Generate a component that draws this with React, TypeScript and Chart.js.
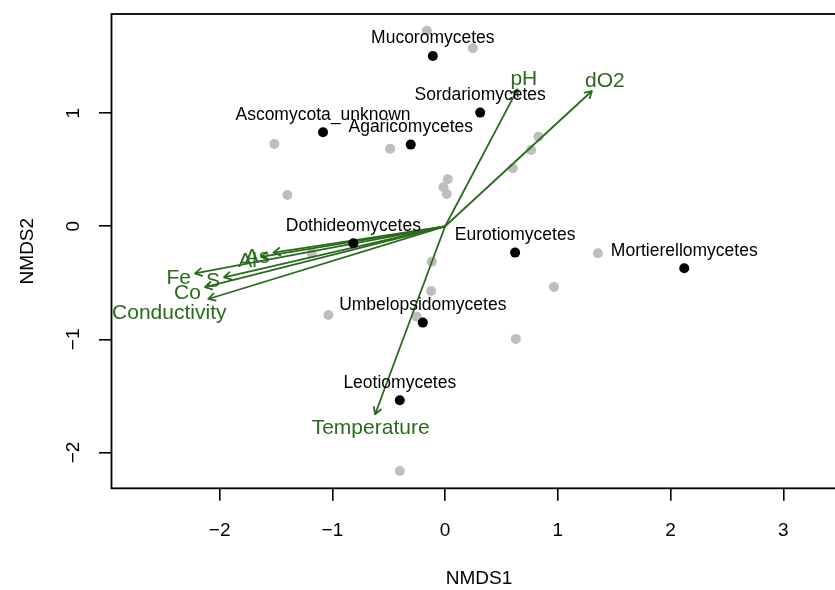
import React, { useEffect, useRef } from "react";
import { Chart, registerables } from "chart.js";

Chart.register(...registerables);

// ---- data ----
const siteX = [-0.162, 0.246, -1.515, -0.488, -1.399, 0.024, -0.015, 0.015, 0.828, 0.763, 0.601, -0.118, -0.124, -1.035, -0.251, -0.402, 1.355, 0.965, 0.627, -1.183];
const siteY = [1.729, 1.574, 0.728, 0.686, 0.277, 0.416, 0.345, 0.286, 0.792, 0.675, 0.513, -0.313, -0.572, -0.784, -0.799, -2.164, -0.239, -0.537, -0.996, -0.239];

const speciesNames = ["Mucoromycetes", "Sordariomycetes", "Ascomycota_unknown", "Agaricomycetes", "Dothideomycetes", "Eurotiomycetes", "Mortierellomycetes", "Umbelopsidomycetes", "Leotiomycetes"];
const speciesX = [-0.109, 0.311, -1.083, -0.305, -0.814, 0.621, 2.121, -0.198, -0.402];
const speciesY = [1.506, 1.005, 0.831, 0.722, -0.150, -0.233, -0.371, -0.852, -1.538];

const vectorNames = ["pH", "dO2", "Temperature", "Conductivity", "Co", "Fe", "S", "Al", "As"];
const vectorX = [0.642, 1.302, -0.621, -2.100, -2.130, -2.218, -1.961, -1.633, -1.523];
const vectorY = [1.211, 1.196, -1.662, -0.643, -0.539, -0.416, -0.451, -0.271, -0.233];

const xTicks = [-2, -1, 0, 1, 2, 3];
const yTicks = [-2, -1, 0, 1];
const xLimits = [-2.959, 3.56];
const yLimits = [-2.317, 1.877];
const xTitle = "NMDS1";
const yTitle = "NMDS2";

// ---- styles ----
const GREEN = "#2b6a1e";
const GREY = "#bebebe";
const FONT = '"Liberation Sans", Arial, Helvetica, sans-serif';
const AXIS_FS = 19;
const SPECIES_FS = 17.5;
const VECTOR_FS = 21;
const CAP = 0.716;
const CANVAS_W = 855;
const CANVAS_H = 590;

const fmt = (v: number) => (v < 0 ? "\u2212" + Math.abs(v) : String(v));

const overlay = {
  id: "overlay",
  afterDatasetsDraw(chart: any) {
    const ctx = chart.ctx as CanvasRenderingContext2D;
    const xs = chart.scales.x;
    const ys = chart.scales.y;
    const ox = xs.getPixelForValue(0);
    const oy = ys.getPixelForValue(0);
    ctx.save();
    // arrow heads
    ctx.strokeStyle = GREEN;
    ctx.lineWidth = 1.8;
    ctx.lineCap = "round";
    ctx.lineJoin = "round";
    const L = 7.5;
    const A = Math.PI / 6;
    vectorX.forEach((vx, i) => {
      const tx = xs.getPixelForValue(vx);
      const ty = ys.getPixelForValue(vectorY[i]);
      const ang = Math.atan2(ty - oy, tx - ox);
      ctx.beginPath();
      ctx.moveTo(tx - L * Math.cos(ang - A), ty - L * Math.sin(ang - A));
      ctx.lineTo(tx, ty);
      ctx.lineTo(tx - L * Math.cos(ang + A), ty - L * Math.sin(ang + A));
      ctx.stroke();
    });
    // vector labels (placed like vegan's ordiArrowTextXY)
    ctx.font = `${VECTOR_FS}px ${FONT}`;
    ctx.fillStyle = GREEN;
    ctx.textAlign = "center";
    ctx.textBaseline = "alphabetic";
    const h = 16;
    vectorNames.forEach((name, i) => {
      const tx = xs.getPixelForValue(vectorX[i]);
      const ty = ys.getPixelForValue(vectorY[i]);
      const dx = tx - ox;
      const dy = ty - oy;
      const w = ctx.measureText(name).width;
      let offX = Math.sign(dx) * (w / 2 + h / 4);
      let offY = 0.75 * h * Math.sign(dy);
      const b = dy / dx;
      const move = offY / b;
      if (isFinite(move) && Math.abs(move) <= Math.abs(offX)) offX = move;
      else offY = b * offX;
      ctx.fillText(name, tx + offX, ty + offY + (CAP * VECTOR_FS) / 2);
    });
    // species labels
    ctx.font = `${SPECIES_FS}px ${FONT}`;
    ctx.fillStyle = "#000";
    speciesNames.forEach((n, i) => {
      ctx.fillText(n, xs.getPixelForValue(speciesX[i]), ys.getPixelForValue(speciesY[i]) - 12.5);
    });
    ctx.restore();
  },
  afterDraw(chart: any) {
    const ctx = chart.ctx as CanvasRenderingContext2D;
    const xs = chart.scales.x;
    const ys = chart.scales.y;
    const ca = chart.chartArea;
    ctx.save();
    ctx.strokeStyle = "#000";
    ctx.lineWidth = 1.8;
    ctx.strokeRect(ca.left, ca.top, ca.right - ca.left, ca.bottom - ca.top);
    ctx.fillStyle = "#000";
    ctx.font = `${AXIS_FS}px ${FONT}`;
    ctx.textAlign = "center";
    ctx.textBaseline = "alphabetic";
    const half = (CAP * AXIS_FS) / 2;
    xs.ticks.forEach((t: any) => {
      ctx.fillText(fmt(t.value), xs.getPixelForValue(t.value), 529.5 + half);
    });
    ys.ticks.forEach((t: any) => {
      ctx.save();
      ctx.translate(71.7, ys.getPixelForValue(t.value));
      ctx.rotate(-Math.PI / 2);
      ctx.fillText(fmt(t.value), 0, half);
      ctx.restore();
    });
    ctx.fillText(xTitle, (ca.left + ca.right) / 2, 577.5 + half);
    ctx.save();
    ctx.translate(26, (ca.top + ca.bottom) / 2);
    ctx.rotate(-Math.PI / 2);
    ctx.fillText(yTitle, 0, half);
    ctx.restore();
    ctx.restore();
  },
};

export default function App() {
  const ref = useRef<HTMLCanvasElement | null>(null);
  useEffect(() => {
    if (!ref.current) return;
    const vectorSets = vectorNames.map((n, i) => ({
      label: n,
      type: "scatter" as const,
      data: [
        { x: 0, y: 0 },
        { x: vectorX[i], y: vectorY[i] },
      ],
      showLine: true,
      borderColor: GREEN,
      borderWidth: 1.8,
      pointRadius: 0,
      fill: false,
      order: 1,
    }));
    const chart = new Chart(ref.current, {
      type: "scatter",
      data: {
        datasets: [
          {
            label: "species",
            data: speciesX.map((x, i) => ({ x, y: speciesY[i] })),
            pointRadius: 5,
            pointBackgroundColor: "#000",
            pointBorderWidth: 0,
            borderWidth: 0,
            order: 0,
          },
          ...vectorSets,
          {
            label: "sites",
            data: siteX.map((x, i) => ({ x, y: siteY[i] })),
            pointRadius: 5,
            pointBackgroundColor: GREY,
            pointBorderWidth: 0,
            borderWidth: 0,
            order: 2,
          },
        ] as any,
      },
      options: {
        responsive: false,
        animation: false,
        events: [],
        layout: { padding: { left: 0, top: 14, right: CANVAS_W - 846.5, bottom: 0 } },
        plugins: { legend: { display: false }, tooltip: { enabled: false } },
        scales: {
          x: {
            type: "linear",
            min: xLimits[0],
            max: xLimits[1],
            afterBuildTicks: (s: any) => {
              s.ticks = xTicks.map((v) => ({ value: v }));
            },
            afterFit: (s: any) => {
              s.height = CANVAS_H - 488.3;
            },
            ticks: { display: false },
            border: { display: false },
            grid: { drawOnChartArea: false, drawTicks: true, tickLength: 12.5, color: "#000", lineWidth: 1.6 },
          },
          y: {
            type: "linear",
            min: yLimits[0],
            max: yLimits[1],
            afterBuildTicks: (s: any) => {
              s.ticks = yTicks.map((v) => ({ value: v }));
            },
            afterFit: (s: any) => {
              s.width = 111.5;
            },
            ticks: { display: false },
            border: { display: false },
            grid: { drawOnChartArea: false, drawTicks: true, tickLength: 12.5, color: "#000", lineWidth: 1.6 },
          },
        },
      } as any,
      plugins: [overlay],
    });
    return () => chart.destroy();
  }, []);
  return (
    <div style={{ position: "absolute", left: 0, top: 0, width: 835, height: CANVAS_H, overflow: "hidden", background: "#fff" }}>
      <div style={{ width: CANVAS_W, height: CANVAS_H }}>
        <canvas ref={ref} width={CANVAS_W} height={CANVAS_H} style={{ display: "block" }} />
      </div>
    </div>
  );
}
